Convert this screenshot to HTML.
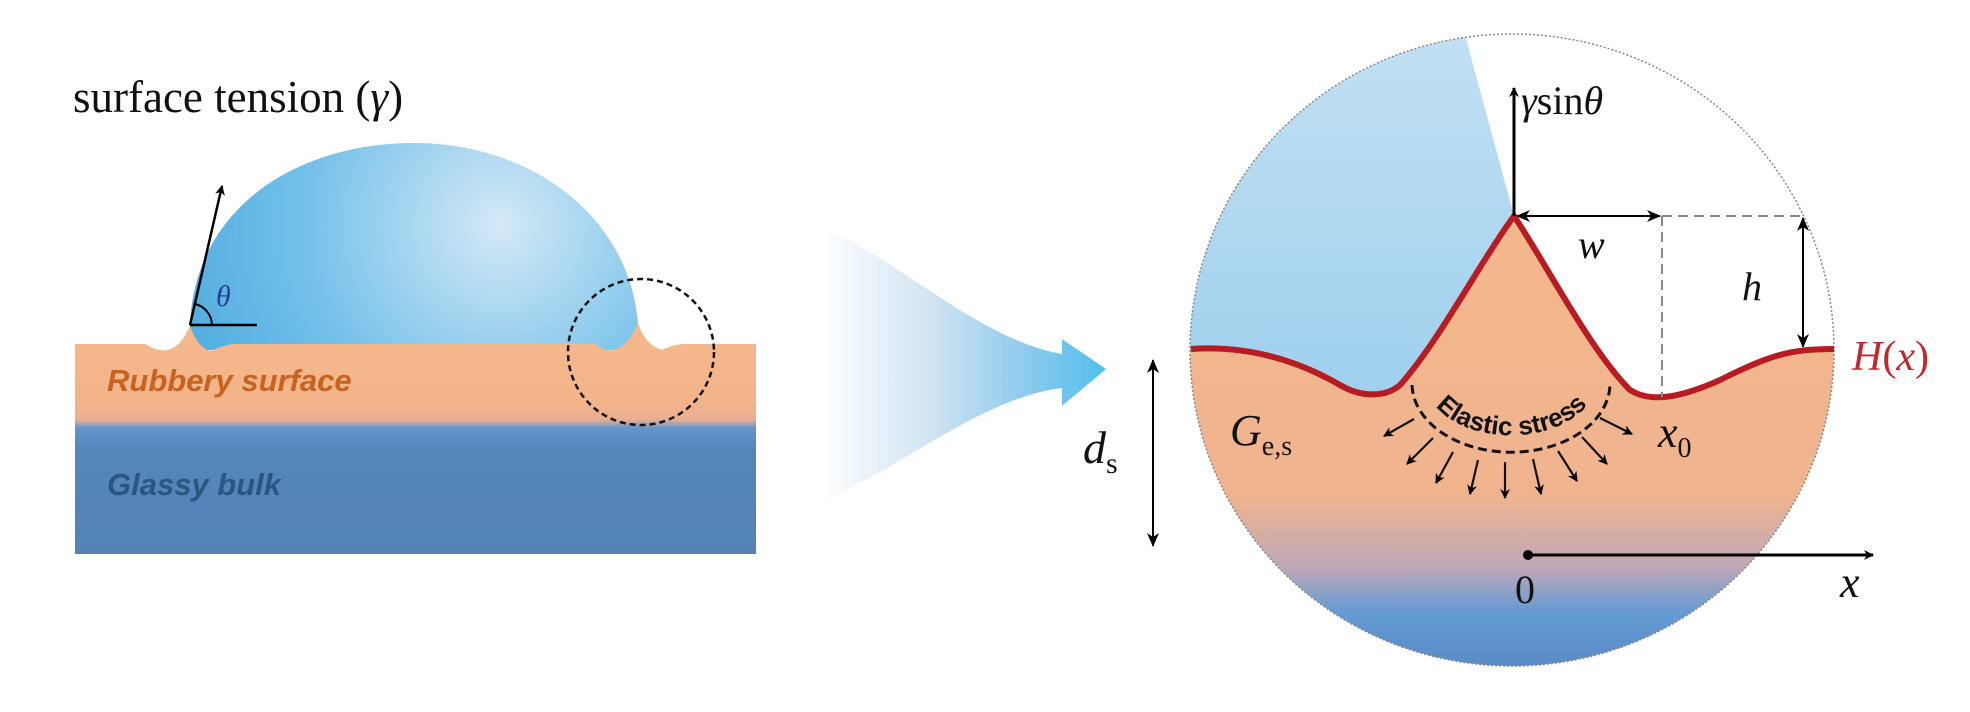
<!DOCTYPE html>
<html><head><meta charset="utf-8"><style>
html,body{margin:0;padding:0;background:#fff;}
svg{display:block;}
.serif{font-family:"Liberation Serif",serif;}
</style></head><body>
<svg width="1970" height="712" viewBox="0 0 1970 712" xmlns="http://www.w3.org/2000/svg">
<defs>
<linearGradient id="sub" x1="0" y1="344" x2="0" y2="554" gradientUnits="userSpaceOnUse">
<stop offset="0" stop-color="#f5b78c"/><stop offset="0.27" stop-color="#f4b48a"/><stop offset="0.36" stop-color="#e9ae92"/><stop offset="0.40" stop-color="#6396cc"/><stop offset="0.5" stop-color="#5586b9"/><stop offset="1" stop-color="#5383b5"/>
</linearGradient>
<radialGradient id="drop" cx="500" cy="225" r="330" gradientUnits="userSpaceOnUse">
<stop offset="0" stop-color="#d4e9f6"/><stop offset="0.6" stop-color="#74c0ea"/><stop offset="1" stop-color="#52ade0"/>
</radialGradient>
<linearGradient id="fun" x1="820" y1="0" x2="1106" y2="0" gradientUnits="userSpaceOnUse">
<stop offset="0" stop-color="#ffffff"/><stop offset="0.4" stop-color="#cfe3f2"/><stop offset="0.75" stop-color="#88c8ec"/><stop offset="1" stop-color="#4fc0ec"/>
</linearGradient>
<linearGradient id="body" x1="0" y1="216" x2="0" y2="666" gradientUnits="userSpaceOnUse">
<stop offset="0" stop-color="#f5b78c"/><stop offset="0.62" stop-color="#efb48e"/><stop offset="0.78" stop-color="#c0a8b8"/><stop offset="0.88" stop-color="#649ad2"/><stop offset="1" stop-color="#5a8cc6"/>
</linearGradient>
<linearGradient id="bluer" x1="0" y1="34" x2="0" y2="400" gradientUnits="userSpaceOnUse">
<stop offset="0" stop-color="#c2e0f2"/><stop offset="1" stop-color="#9ed0ee"/>
</linearGradient>
<clipPath id="cc"><ellipse cx="1512" cy="350" rx="322" ry="316"/></clipPath>
<marker id="ah" markerWidth="10" markerHeight="10" refX="9" refY="5" orient="auto" markerUnits="userSpaceOnUse"><path d="M0,0 L10,5 L0,10 L3,5Z" fill="#000"/></marker>
<marker id="ahs" markerWidth="14" markerHeight="12" refX="13" refY="6" orient="auto-start-reverse" markerUnits="userSpaceOnUse"><path d="M0,0 L14,6 L0,12 L4,6Z" fill="#000"/></marker>
<path id="tp" d="M1425,380 A84,55 0 0 0 1597,378"/>
</defs>

<!-- Left panel -->
<text x="73" y="112" class="serif" font-size="45" fill="#111">surface tension (<tspan font-style="italic">γ</tspan>)</text>
<path d="M190,325 C195,205 300,143 414,143 C530,143 630,215 638,325 L640,350 L190,350 Z" fill="url(#drop)"/>
<path d="M75,344 L145,344 Q158,352 168,350 Q182,346 190,325 Q196,346 210,351 Q222,346 232,344 L595,344 Q605,352 614,350 Q630,344 638,323 Q645,345 662,350 Q672,345 682,344 L756,344 L756,554 L75,554Z" fill="url(#sub)"/>
<text x="107" y="391" font-family="Liberation Sans,sans-serif" font-weight="bold" font-style="italic" font-size="31" fill="#c8621e">Rubbery surface</text>
<text x="107" y="495" font-family="Liberation Sans,sans-serif" font-weight="bold" font-style="italic" font-size="31" fill="#2a5680">Glassy bulk</text>
<line x1="190" y1="325" x2="222" y2="186" stroke="#000" stroke-width="2.5" marker-end="url(#ah)"/>
<line x1="190" y1="325" x2="257" y2="325" stroke="#000" stroke-width="2.5"/>
<path d="M195,304 A22,22 0 0 1 212,325" fill="none" stroke="#000" stroke-width="2"/>
<text x="216" y="306" class="serif" font-style="italic" font-size="30" fill="#2a3f9a">θ</text>
<ellipse cx="641" cy="352" rx="73" ry="73" fill="none" stroke="#111" stroke-width="2.5" stroke-dasharray="6,4"/>

<!-- Funnel arrow -->
<path d="M823,228 C900,260 980,340 1062,354 L1062,339 L1106,369 L1062,406 L1062,388 C980,398 900,470 823,500 Z" fill="url(#fun)"/>

<!-- Right panel -->
<g clip-path="url(#cc)">
<rect x="1180" y="20" width="680" height="660" fill="#fff"/>
<path d="M1180,20 L1461,20 L1514,216 L1514,420 L1180,420Z" fill="url(#bluer)"/>
<path d="M1191,349 C1250,345 1300,362 1340,385 C1360,397 1385,398 1400,385 C1440,340 1480,262 1514,216 C1545,262 1590,350 1630,390 C1650,403 1680,398 1720,380 C1770,355 1790,349 1840,349 L1840,680 L1180,680 L1180,349Z" fill="url(#body)"/>
</g>
<ellipse cx="1512" cy="350" rx="322" ry="316" fill="none" stroke="#888" stroke-width="1.5" stroke-dasharray="2,2"/>
<path d="M1191,349 C1250,345 1300,362 1340,385 C1360,397 1385,398 1400,385 C1440,340 1480,262 1514,216 C1545,262 1590,350 1630,390 C1650,403 1680,398 1720,380 C1770,355 1790,349 1834,349" fill="none" stroke="#b81c22" stroke-width="6"/>

<line x1="1514" y1="216" x2="1514" y2="88" stroke="#000" stroke-width="3" marker-end="url(#ah)"/>
<text x="1521" y="114" class="serif" font-size="40" fill="#111"><tspan font-style="italic">γ</tspan>sin<tspan font-style="italic">θ</tspan></text>
<line x1="1517" y1="216" x2="1660" y2="216" stroke="#000" stroke-width="2" marker-start="url(#ahs)" marker-end="url(#ahs)"/>
<line x1="1662" y1="216" x2="1803" y2="216" stroke="#888" stroke-width="2" stroke-dasharray="10,6"/>
<line x1="1662" y1="216" x2="1662" y2="397" stroke="#888" stroke-width="2" stroke-dasharray="10,6"/>
<line x1="1803" y1="218" x2="1803" y2="347" stroke="#000" stroke-width="2" marker-start="url(#ahs)" marker-end="url(#ahs)"/>
<text x="1578" y="258" class="serif" font-style="italic" font-size="40" fill="#111">w</text>
<text x="1742" y="300" class="serif" font-style="italic" font-size="40" fill="#111">h</text>
<text x="1852" y="370" class="serif" font-size="42" fill="#c0282d"><tspan font-style="italic">H</tspan>(<tspan font-style="italic">x</tspan>)</text>

<line x1="1153" y1="360" x2="1153" y2="546" stroke="#000" stroke-width="2" marker-start="url(#ahs)" marker-end="url(#ahs)"/>
<text x="1083" y="463" class="serif" font-size="46" fill="#111"><tspan font-style="italic">d</tspan><tspan font-size="30" dy="10">s</tspan></text>
<text x="1230" y="445" class="serif" font-size="44" fill="#111"><tspan font-style="italic">G</tspan><tspan font-size="28" dy="10">e,s</tspan></text>
<text x="1658" y="447" class="serif" font-size="44" fill="#111"><tspan font-style="italic">x</tspan><tspan font-size="28" dy="10">0</tspan></text>

<path d="M1412,385 A98,68 0 0 0 1610,382" fill="none" stroke="#111" stroke-width="3" stroke-dasharray="9,5"/>
<text font-family="Liberation Sans,sans-serif" font-weight="bold" font-size="26" fill="#111"><textPath href="#tp" startOffset="50%" text-anchor="middle">Elastic stress</textPath></text>
<g stroke="#111" stroke-width="2.2" marker-end="url(#ah)">
<line x1="1414" y1="419" x2="1384" y2="436"/>
<line x1="1433" y1="438" x2="1407" y2="464"/>
<line x1="1453" y1="452" x2="1436" y2="483"/>
<line x1="1478" y1="460" x2="1470" y2="494"/>
<line x1="1505" y1="462" x2="1505" y2="498"/>
<line x1="1533" y1="459" x2="1541" y2="494"/>
<line x1="1558" y1="451" x2="1577" y2="481"/>
<line x1="1582" y1="437" x2="1607" y2="464"/>
<line x1="1600" y1="418" x2="1632" y2="434"/>
</g>

<circle cx="1528" cy="555" r="5" fill="#000"/>
<line x1="1528" y1="555" x2="1873" y2="555" stroke="#000" stroke-width="3" marker-end="url(#ah)"/>
<text x="1515" y="603" class="serif" font-size="40" fill="#111">0</text>
<text x="1840" y="597" class="serif" font-style="italic" font-size="44" fill="#111">x</text>
</svg>
</body></html>
